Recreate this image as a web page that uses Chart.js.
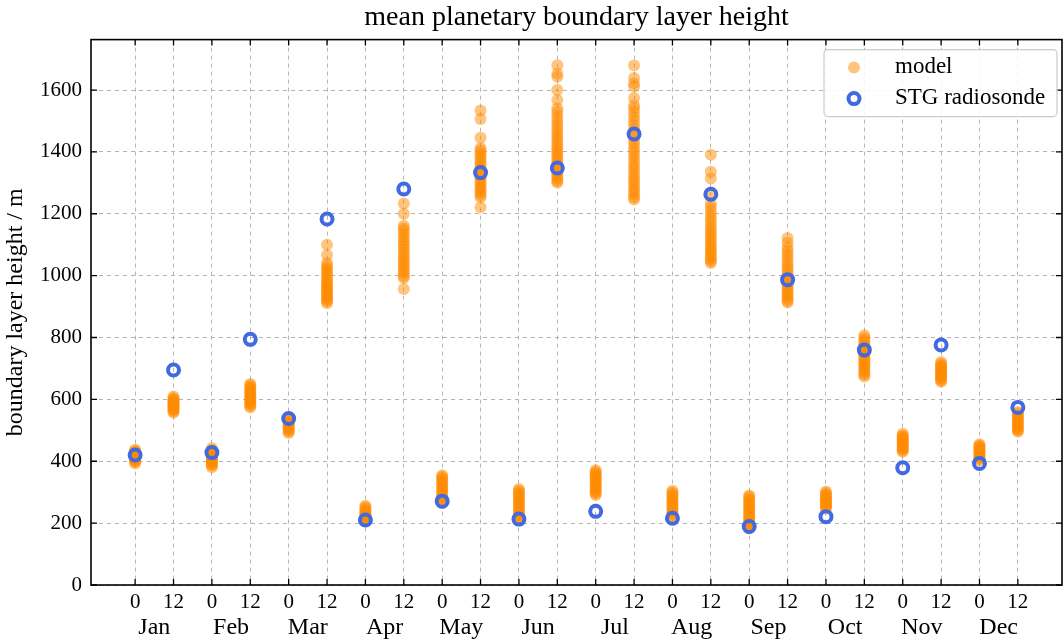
<!DOCTYPE html>
<html>
<head>
<meta charset="utf-8">
<title>mean planetary boundary layer height</title>
<script src="https://cdn.jsdelivr.net/npm/chart.js@4.4.0/dist/chart.umd.min.js"></script>
<style>
  html, body { margin: 0; padding: 0; background: #fff; }
  #wrap { width: 1063px; height: 639px; }
</style>
</head>
<body>
<div id="wrap"><canvas id="pblChart" width="1063" height="639"></canvas></div>
<script>
// launch hour labels, two per month (0 and 12 UTC)
const hours = ['0', '12', '0', '12', '0', '12', '0', '12', '0', '12', '0', '12',
               '0', '12', '0', '12', '0', '12', '0', '12', '0', '12', '0', '12'];
const months = ['Jan', 'Feb', 'Mar', 'Apr', 'May', 'Jun', 'Jul', 'Aug', 'Sep', 'Oct', 'Nov', 'Dec'];
const yTicks = [0, 200, 400, 600, 800, 1000, 1200, 1400, 1600];

// STG radiosonde mean, one value per column
const radiosonde = [420, 695, 428, 794, 538, 1183, 210, 1280, 271, 1333, 213, 1348,
                    238, 1458, 216, 1263, 189, 987, 221, 760, 379, 776, 393, 574];

// model values, one list per column
const modelJan00 = [393, 398, 401, 404, 407, 409, 412, 414, 417, 419, 421, 424, 427, 430, 434, 437];
const modelJan12 = [557, 562, 566, 569, 573, 576, 579, 582, 585, 589, 592, 596, 600, 604, 609];
const modelFeb00 = [381, 386, 390, 394, 398, 401, 404, 408, 412, 416, 421, 426, 431, 437, 442];
const modelFeb12 = [574, 579, 584, 588, 593, 597, 601, 606, 611, 615, 619, 624, 629, 634, 640, 646, 650];
const modelMar00 = [491, 496, 500, 504, 509, 513, 517, 521, 526, 531, 536, 541];
const modelMar12 = [911, 917, 922, 928, 933, 939, 944, 950, 956, 961, 967, 973, 979, 986, 993, 1001,
                    1009, 1016, 1024, 1032, 1041, 1067, 1100];
const modelApr00 = [206, 209, 213, 217, 220, 224, 228, 232, 236, 241, 246, 251, 256];
const modelApr12 = [957, 992, 999, 1008, 1016, 1024, 1033, 1041, 1050, 1058, 1067, 1076, 1086, 1095,
                    1104, 1114, 1124, 1134, 1144, 1153, 1161, 1200, 1233];
const modelMay00 = [264, 270, 275, 281, 287, 292, 298, 304, 309, 315, 321, 327, 333, 339, 345, 350, 355];
const modelMay12 = [1221, 1253, 1260, 1268, 1275, 1283, 1290, 1298, 1306, 1313, 1321, 1329, 1337, 1345,
                    1353, 1361, 1369, 1378, 1387, 1396, 1405, 1413, 1446, 1506, 1534];
const modelJun00 = [212, 217, 223, 229, 234, 240, 246, 252, 257, 263, 269, 275, 281, 287, 293, 299, 305, 310];
const modelJun12 = [1300, 1306, 1313, 1320, 1328, 1335, 1343, 1351, 1359, 1367, 1376, 1384, 1393, 1402,
                    1411, 1420, 1430, 1440, 1450, 1460, 1471, 1482, 1493, 1505, 1517, 1530, 1541, 1568,
                    1600, 1643, 1653, 1680];
const modelJul00 = [291, 296, 301, 306, 311, 316, 321, 326, 331, 336, 341, 346, 351, 356, 361, 366, 371];
const modelJul12 = [1246, 1253, 1262, 1271, 1280, 1290, 1300, 1310, 1320, 1331, 1342, 1353, 1364, 1376,
                    1388, 1400, 1412, 1424, 1436, 1449, 1462, 1475, 1488, 1501, 1514, 1527, 1540, 1551,
                    1574, 1611, 1622, 1639, 1679];
const modelAug00 = [219, 224, 230, 235, 241, 247, 252, 258, 264, 269, 275, 281, 287, 293, 299, 305];
const modelAug12 = [1041, 1047, 1054, 1061, 1068, 1076, 1083, 1091, 1099, 1107, 1116, 1125, 1134, 1143,
                    1153, 1163, 1174, 1185, 1197, 1209, 1221, 1234, 1264, 1314, 1336, 1391];
const modelSep00 = [183, 188, 193, 199, 204, 210, 215, 221, 226, 232, 238, 243, 249, 255, 261, 267, 273,
                    279, 285, 289];
const modelSep12 = [913, 919, 926, 933, 940, 947, 954, 961, 968, 976, 984, 992, 1000, 1009, 1018, 1027,
                    1037, 1047, 1058, 1069, 1080, 1090, 1106, 1122];
const modelOct00 = [247, 251, 255, 259, 263, 267, 271, 275, 279, 283, 287, 292, 297, 302];
const modelOct12 = [674, 680, 686, 692, 698, 704, 710, 716, 722, 728, 734, 740, 746, 752, 758, 764, 771,
                    778, 785, 792, 799, 807];
const modelNov00 = [431, 435, 439, 443, 447, 451, 455, 459, 463, 467, 471, 475, 479, 484, 489];
const modelNov12 = [657, 661, 666, 670, 674, 678, 682, 686, 690, 694, 698, 702, 706, 710, 715, 721];
const modelDec00 = [403, 407, 411, 415, 419, 423, 427, 431, 435, 439, 443, 447, 451, 455];
const modelDec12 = [495, 499, 504, 509, 514, 519, 524, 529, 534, 539, 544, 549, 554, 559];

const modelColumns = [modelJan00, modelJan12, modelFeb00, modelFeb12, modelMar00, modelMar12,
                      modelApr00, modelApr12, modelMay00, modelMay12, modelJun00, modelJun12,
                      modelJul00, modelJul12, modelAug00, modelAug12, modelSep00, modelSep12,
                      modelOct00, modelOct12, modelNov00, modelNov12, modelDec00, modelDec12];

const FONT = "'Liberation Serif', 'DejaVu Serif', serif";
const ORANGE = 'rgba(255, 140, 0, 0.5)';
const BLUE = 'rgb(65, 105, 225)';
const X_MIN = -1.15, X_MAX = 24.15;

const modelPoints = [];
modelColumns.forEach((col, i) => col.forEach(v => modelPoints.push({ x: i, y: v })));
const sondePoints = radiosonde.map((v, i) => ({ x: i, y: v }));

// frame + inward ticks on all four sides
const framePlugin = {
    id: 'frame',
    afterDatasetsDraw(chart) {
        const { ctx, chartArea: a, scales } = chart;
        ctx.save();
        ctx.strokeStyle = '#000';
        ctx.lineWidth = 1.3;
        ctx.beginPath();
        scales.x.ticks.forEach(t => {
            const px = scales.x.getPixelForValue(t.value);
            ctx.moveTo(px, a.bottom); ctx.lineTo(px, a.bottom - 6);
            ctx.moveTo(px, a.top); ctx.lineTo(px, a.top + 6);
        });
        scales.y.ticks.forEach(t => {
            const py = scales.y.getPixelForValue(t.value);
            ctx.moveTo(a.left, py); ctx.lineTo(a.left + 6, py);
            ctx.moveTo(a.right, py); ctx.lineTo(a.right - 6, py);
        });
        ctx.stroke();
        ctx.lineWidth = 1.6;
        ctx.strokeRect(a.left, a.top, a.right - a.left, a.bottom - a.top);
        ctx.restore();
    }
};

// boxed legend inside the upper right corner
const legendPlugin = {
    id: 'boxLegend',
    afterDraw(chart) {
        const { ctx, chartArea: a } = chart;
        const w = 233, h = 67;
        const x0 = a.right - w - 5, y0 = a.top + 10;
        ctx.save();
        ctx.beginPath();
        ctx.roundRect(x0, y0, w, h, 4);
        ctx.fillStyle = 'rgba(255,255,255,0.85)';
        ctx.fill();
        ctx.strokeStyle = '#cccccc';
        ctx.lineWidth = 1.2;
        ctx.stroke();

        const ds = chart.data.datasets;
        ctx.font = '23px ' + FONT;
        ctx.textBaseline = 'middle';
        ctx.textAlign = 'left';

        // model entry
        ctx.beginPath();
        ctx.arc(x0 + 30, y0 + 18, 6, 0, Math.PI * 2);
        ctx.fillStyle = ORANGE;
        ctx.fill();
        ctx.fillStyle = '#000';
        ctx.fillText(ds[0].label, x0 + 71, y0 + 17);

        // radiosonde entry
        ctx.beginPath();
        ctx.arc(x0 + 30, y0 + 49, 5.5, 0, Math.PI * 2);
        ctx.strokeStyle = BLUE;
        ctx.lineWidth = 4;
        ctx.stroke();
        ctx.fillText(ds[1].label, x0 + 71, y0 + 48);
        ctx.restore();
    }
};

new Chart(document.getElementById('pblChart'), {
    type: 'scatter',
    data: {
        datasets: [
            {
                label: 'model',
                data: modelPoints,
                backgroundColor: ORANGE,
                borderWidth: 0,
                pointRadius: 6,
                order: 1
            },
            {
                label: 'STG radiosonde',
                data: sondePoints,
                backgroundColor: 'rgba(0,0,0,0)',
                borderColor: BLUE,
                borderWidth: 4,
                pointRadius: 5.5,
                order: 0
            }
        ]
    },
    options: {
        responsive: false,
        animation: false,
        devicePixelRatio: 1,
        layout: { autoPadding: false, padding: { top: 0, right: 1, bottom: 0, left: 0 } },
        plugins: {
            legend: { display: false },
            tooltip: { enabled: false },
            title: {
                display: true,
                fullSize: false,
                text: 'mean planetary boundary layer height',
                color: '#000',
                font: { family: FONT, size: 28, weight: 'normal' },
                padding: { top: 1, bottom: 5 }
            }
        },
        scales: {
            x: {
                type: 'linear',
                position: 'bottom',
                min: X_MIN,
                max: X_MAX,
                weight: 0,
                afterBuildTicks: s => { s.ticks = hours.map((h, i) => ({ value: i })); },
                afterFit: s => { s.height = 27; },
                ticks: {
                    autoSkip: false,
                    maxRotation: 0,
                    padding: 5,
                    color: '#000',
                    font: { family: FONT, size: 21 },
                    callback: (v, i) => hours[i]
                },
                grid: { color: '#b4b4b4', lineWidth: 1, drawTicks: false },
                border: { display: false, dash: [4, 4] }
            },
            xMonth: {
                type: 'linear',
                position: 'bottom',
                min: X_MIN,
                max: X_MAX,
                weight: 1,
                afterBuildTicks: s => { s.ticks = months.map((m, i) => ({ value: 2 * i + 0.5 })); },
                afterFit: s => { s.height = 27; },
                ticks: {
                    autoSkip: false,
                    maxRotation: 0,
                    padding: 1,
                    color: '#000',
                    font: { family: FONT, size: 24 },
                    callback: (v, i) => months[i]
                },
                grid: { display: false, drawTicks: false },
                border: { display: false }
            },
            y: {
                type: 'linear',
                min: 0,
                max: 1763,
                afterBuildTicks: s => { s.ticks = yTicks.map(v => ({ value: v })); },
                afterFit: s => { s.width = 91; },
                ticks: {
                    padding: 9,
                    color: '#000',
                    font: { family: FONT, size: 21 },
                    callback: v => String(v)
                },
                grid: { color: '#b4b4b4', lineWidth: 1, drawTicks: false },
                border: { display: false, dash: [4, 4] },
                title: {
                    display: true,
                    text: 'boundary layer height / m',
                    color: '#000',
                    font: { family: FONT, size: 24 },
                    padding: { top: 1, bottom: 0 }
                }
            }
        }
    },
    plugins: [framePlugin, legendPlugin]
});
</script>
</body>
</html>
